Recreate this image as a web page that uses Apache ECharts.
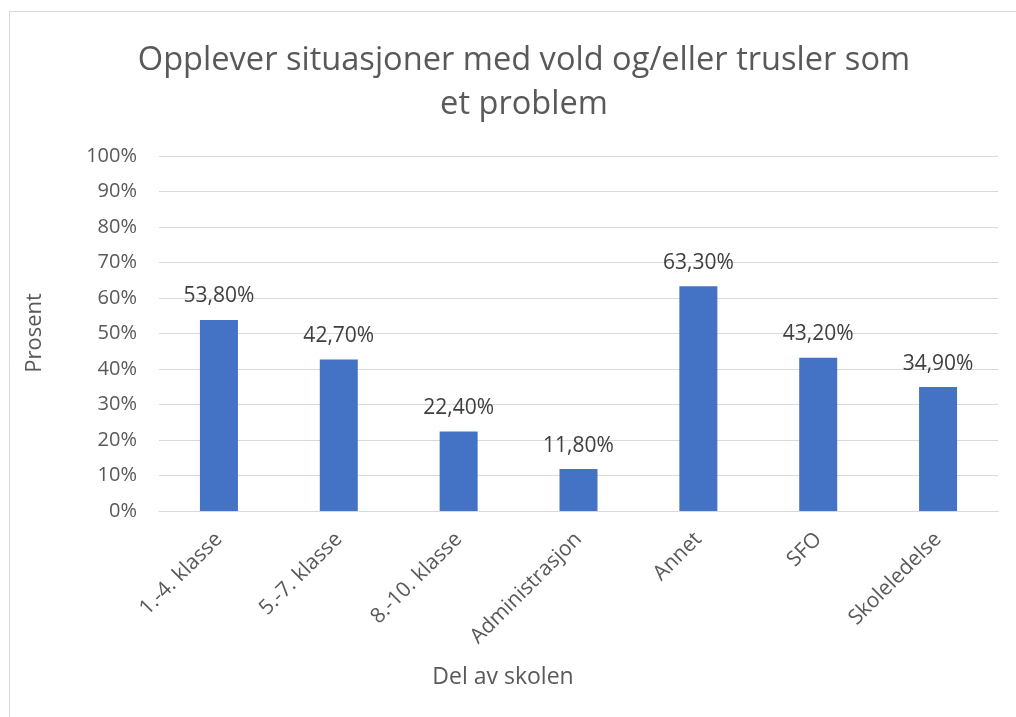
<!DOCTYPE html>
<html><head><meta charset="utf-8">
<script src="https://cdn.jsdelivr.net/npm/echarts@6/dist/echarts.min.js"></script>
<style>html,body{margin:0;padding:0;background:#fff}#c{width:1016px;height:717px}</style>
</head><body><div id="c"></div>
<script>
const categories = ['1.-4. klasse','5.-7. klasse','8.-10. klasse','Administrasjon','Annet','SFO','Skoleledelse'];
const values = [53.8, 42.7, 22.4, 11.8, 63.3, 43.2, 34.9];
const yTicks = [0,10,20,30,40,50,60,70,80,90,100];
const titleText = 'Opplever situasjoner med vold og/eller trusler som\net problem';
const xName = 'Del av skolen';
const yName = 'Prosent';
const F = '"Open Sans", sans-serif';
const chart = echarts.init(document.getElementById('c'));
chart.setOption({
  animation:false,
  backgroundColor:'#fff',
  title:{text:titleText,left:519,top:34,textAlign:'center',
    textStyle:{fontFamily:F,fontSize:32.6,fontWeight:'normal',color:'#595959',lineHeight:44}},
  graphic:[
    {type:'rect',shape:{x:9.5,y:11.5,width:1100,height:800},style:{fill:'none',stroke:'#d9d9d9',lineWidth:1}},
    {type:'text',x:503,y:677,style:{text:xName,fontFamily:F,fontSize:23,fill:'#595959',textAlign:'center',textVerticalAlign:'middle'}},
    {type:'text',x:35,y:333,rotation:Math.PI/2,style:{text:yName,fontFamily:F,fontSize:22,fill:'#595959',textAlign:'center',textVerticalAlign:'middle'}}
  ],
  grid:{left:159,right:18,top:156,height:355,containLabel:false},
  xAxis:{type:'category',data:categories,
    axisLine:{lineStyle:{color:'#d9d9d9',width:1}},axisTick:{show:false},
    axisLabel:{rotate:45,interval:0,margin:25,fontFamily:F,fontSize:21,color:'#595959'}},
  yAxis:{type:'value',min:0,max:100,interval:10,
    axisLine:{show:false},axisTick:{show:false},
    splitLine:{lineStyle:{color:'#d9d9d9',width:1}},
    axisLabel:{margin:22,fontFamily:F,fontSize:20,color:'#595959',
      formatter:v=>yTicks.includes(v)?v+'%':''}},
  series:[{type:'bar',data:values,barWidth:38,itemStyle:{color:'#4472c4'},
    label:{show:true,position:'top',distance:13,fontFamily:F,fontSize:21,color:'#404040',
      formatter:p=>p.value.toFixed(2).replace('.',',')+'%'}}]
});
</script></body></html>
